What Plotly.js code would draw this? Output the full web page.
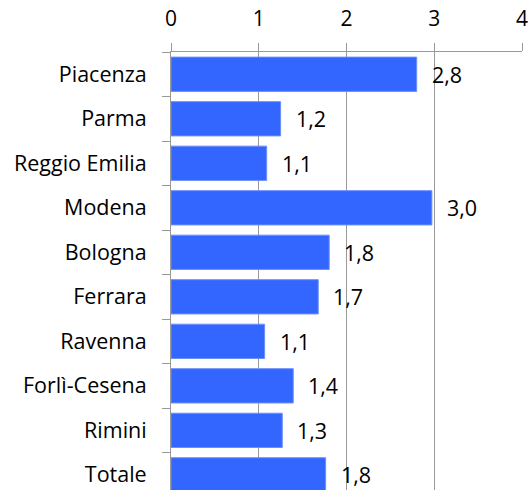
<!DOCTYPE html>
<html>
<head>
<meta charset="utf-8">
<script src="https://cdn.plot.ly/plotly-3.0.1.min.js"></script>
<style>html,body{margin:0;padding:0;background:#fff;}</style>
</head>
<body>
<div id="chart" style="width:531px;height:490px;"></div>
<script>
const categories = ["Piacenza","Parma","Reggio Emilia","Modena","Bologna","Ferrara","Ravenna","Forlì-Cesena","Rimini","Totale"];
const values = [2.80, 1.249, 1.09, 2.973, 1.803, 1.678, 1.067, 1.393, 1.268, 1.762];
const xTickValues = [0, 1, 2, 3, 4];
const xTickLabels = ["0", "1", "2", "3", "4"];

const FONT = "'Open Sans', sans-serif";
const SIZE = 21.5;
const fmt = v => v.toFixed(1).replace('.', ',');

const trace = {
  type: 'bar',
  orientation: 'h',
  x: values,
  y: categories,
  marker: {color: '#3366FF', line: {color: '#6b8fff', width: 1}},
  hoverinfo: 'none'
};

const annotations = values.map((v, i) => ({
  x: v, y: categories[i], xref: 'x', yref: 'y',
  text: fmt(v), showarrow: false, xanchor: 'left', yanchor: 'middle',
  xshift: 13, font: {family: FONT, size: SIZE, color: '#000'}
}));

const layout = {
  width: 531, height: 490,
  margin: {l: 171, r: 9, t: 52, b: 0, pad: 0},
  paper_bgcolor: '#fff', plot_bgcolor: '#fff',
  showlegend: false,
  bargap: 0.23,
  separators: ',.',
  font: {family: FONT, size: SIZE, color: '#000'},
  xaxis: {
    side: 'top', range: [0, 4], tickvals: xTickValues, ticktext: xTickLabels,
    showgrid: true, gridcolor: '#999', gridwidth: 1,
    showline: true, linecolor: '#999', linewidth: 1,
    ticks: 'outside', ticklen: 8, tickcolor: '#999', tickwidth: 1,
    ticklabelstandoff: 9,
    tickfont: {family: FONT, size: 21, color: '#000'},
    zeroline: false, fixedrange: true
  },
  yaxis: {
    type: 'category', categoryorder: 'array', categoryarray: categories,
    range: [9.34, -0.5], tickson: 'boundaries',
    showgrid: false, showline: true, linecolor: '#999', linewidth: 1,
    ticks: 'outside', ticklen: 8, tickcolor: '#999', tickwidth: 1,
    ticklabelstandoff: 19,
    tickfont: {family: FONT, size: SIZE, color: '#000'},
    zeroline: false, fixedrange: true
  },
  annotations: annotations
};

Plotly.newPlot('chart', [trace], layout, {displayModeBar: false, staticPlot: true});
</script>
</body>
</html>
